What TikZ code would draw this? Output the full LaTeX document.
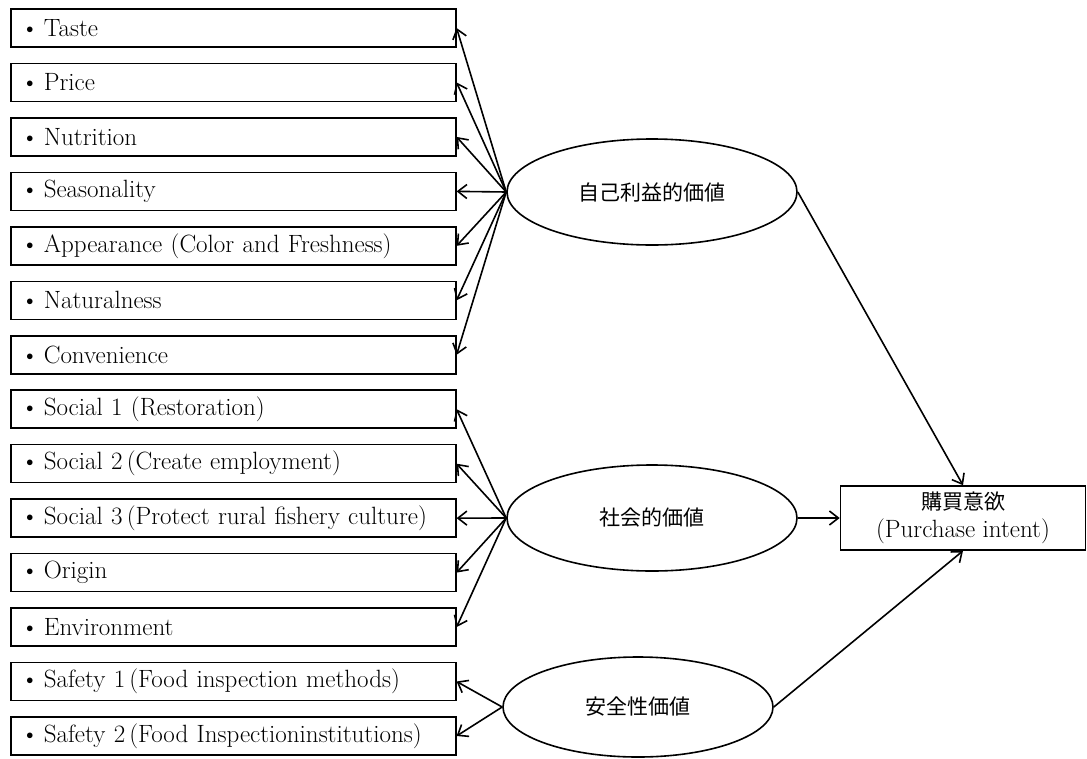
\documentclass[tikz,border=0pt]{standalone}
\usepackage{fontspec}
\newfontfamily\cjk{Noto Sans CJK JP}
\usetikzlibrary{shapes.geometric,arrows.meta}
\tikzset{
  item/.style={draw, line width=1.6pt, minimum width=445pt, minimum height=38pt, text width=425pt, align=left, inner xsep=10pt, inner ysep=0pt, anchor=west, font=\fontsize{25}{28}\selectfont},
  latent/.style={draw, line width=1.6pt, ellipse, inner sep=0pt, font=\cjk\fontsize{21}{24}\selectfont},
  outcome/.style={draw, line width=1.6pt, minimum width=245pt, minimum height=64pt, align=center, inner sep=0pt, font=\fontsize{25}{28}\selectfont},
  conn/.style={line width=1.6pt, -{Straight Barb[length=9pt,width=14pt,line width=1.6pt]}}
}
\newcommand{\bul}{\makebox[23pt][l]{\textbullet}}
\begin{document}
\begin{tikzpicture}[x=1pt,y=-1pt]
\useasboundingbox (0,0) rectangle (1087,758);
\foreach \n/\t [count=\i from 0] in {b0/Taste, b1/Price, b2/Nutrition, b3/Seasonality, b4/{Appearance (Color and Freshness)}, b5/Naturalness, b6/Convenience, b7/{Social 1 (Restoration)}, b8/{Social 2\,(Create employment)}, b9/{Social 3\,(Protect rural fishery culture)}, b10/Origin, b11/Environment, b12/{Safety 1\,(Food inspection methods)}, b13/{Safety 2\,(Food Inspectioninstitutions)}}
  \node[item] (\n) at (10, {28+\i*54.46}) {\bul\t};
\node[latent, minimum width=290pt, minimum height=106pt] (e1) at (652,192) {自己利益的価値};
\node[latent, minimum width=290pt, minimum height=106pt] (e2) at (652,518) {社会的価値};
\node[latent, minimum width=270pt, minimum height=100pt] (e3) at (638,707) {安全性価値};
\node[outcome] (pi) at (963,518) {{\cjk\fontsize{21}{28}\selectfont 購買意欲}\\(Purchase intent)};
\foreach \j in {0,...,6} \draw[conn] (e1.west) -- (b\j.east);
\foreach \j in {7,...,11} \draw[conn] (e2.west) -- (b\j.east);
\foreach \j in {12,13} \draw[conn] (e3.west) -- (b\j.east);
\draw[conn] (e1.east) -- (pi.north);
\draw[conn] (e2.east) -- (pi.west);
\draw[conn] (e3.east) -- (pi.south);
\end{tikzpicture}
\end{document}
